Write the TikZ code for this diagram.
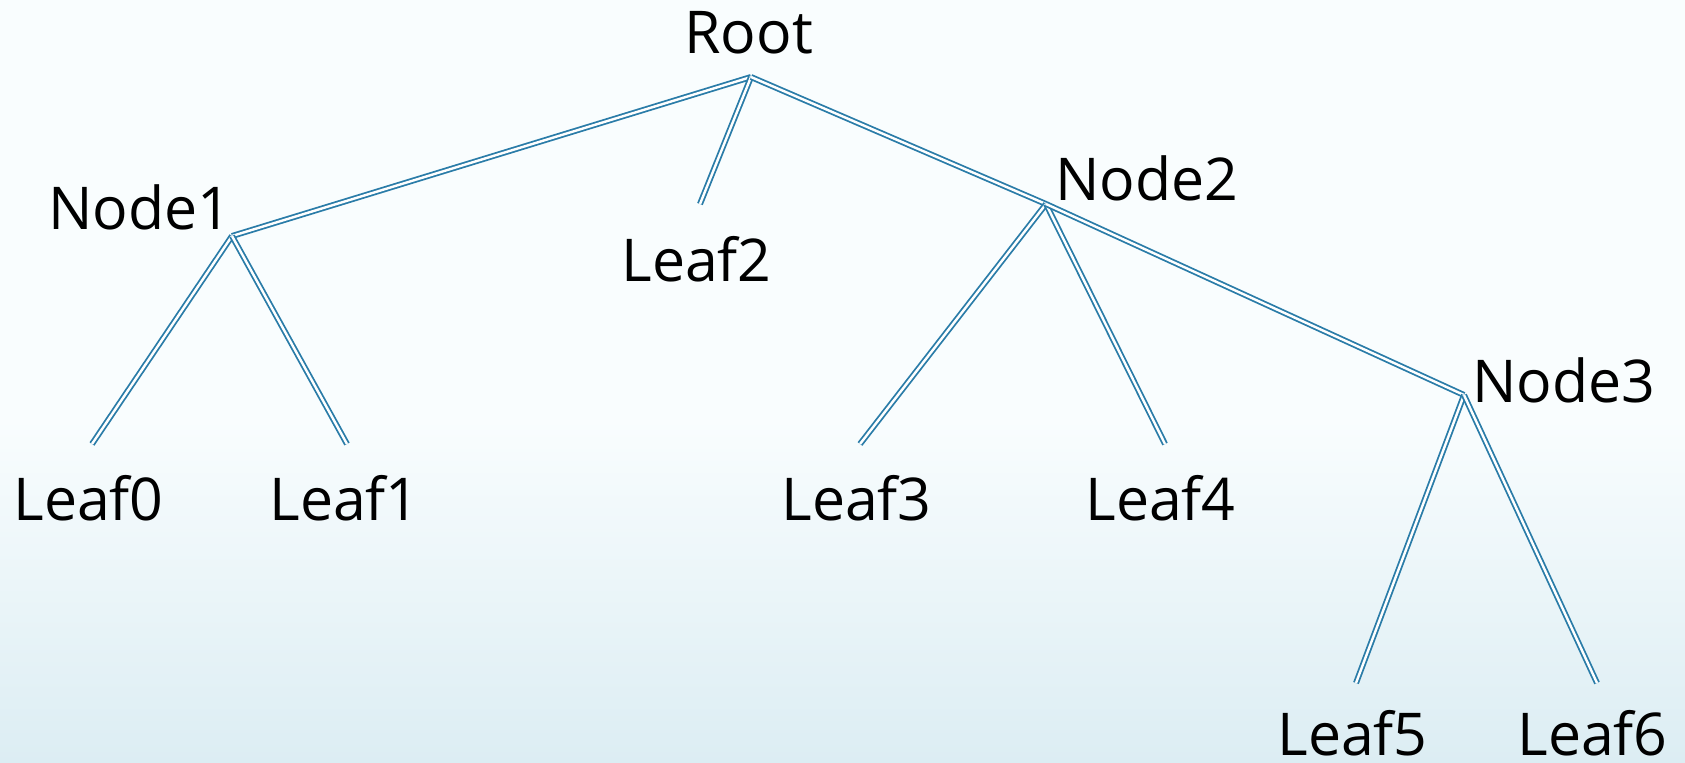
\documentclass[tikz,border=0pt]{standalone}
\usepackage{fontspec}
\setmainfont{Open Sans}
\begin{document}
\begin{tikzpicture}[x=0.5pt,y=-0.5pt,
  lbl/.style={anchor=base west,inner sep=0pt,font=\fontsize{29.5}{36}\selectfont},
  edge/.style={double distance=1.2pt,line width=0.9pt,draw=edgeblue,double=white}]
\definecolor{edgeblue}{HTML}{2A7CA8}
\definecolor{bgtop}{HTML}{F9FDFE}
\definecolor{bgbot}{HTML}{DCEDF3}
\fill[bgtop] (0,0) rectangle (1685,420);
\shade[top color=bgtop,bottom color=bgbot] (0,419) rectangle (1685,762);
\useasboundingbox (0,0) rectangle (1685,762);
% labels
\node[lbl] (troot) at (684,53) {Root};
\node[lbl] (tn1) at (48,229) {Node1};
\node[lbl] (tn2) at (1055,200) {Node2};
\node[lbl] (tn3) at (1472,402) {Node3};
\node[lbl] (tl2) at (621,281) {Leaf2};
\node[lbl] (tl0) at (13,520) {Leaf0};
\node[lbl] (tl1) at (269,520) {Leaf1};
\node[lbl] (tl3) at (781,520) {Leaf3};
\node[lbl] (tl4) at (1085,520) {Leaf4};
\node[lbl] (tl5) at (1277,755) {Leaf5};
\node[lbl] (tl6) at (1517,755) {Leaf6};
% junctions
\coordinate (root) at (751,77);
\coordinate (n1) at (232,236);
\coordinate (n2) at (1046,204);
\coordinate (n3) at (1464,395);
\coordinate (l2) at (700,204);
\coordinate (l0) at (92,444);
\coordinate (l1) at (347,444);
\coordinate (l3) at (860,444);
\coordinate (l4) at (1165,444);
\coordinate (l5) at (1356,683);
\coordinate (l6) at (1597,683);
\draw[edge] (root) -- (n1);
\draw[edge] (root) -- (l2);
\draw[edge] (root) -- (n2);
\draw[edge] (n1) -- (l0);
\draw[edge] (n1) -- (l1);
\draw[edge] (n2) -- (l3);
\draw[edge] (n2) -- (l4);
\draw[edge] (n2) -- (n3);
\draw[edge] (n3) -- (l5);
\draw[edge] (n3) -- (l6);
\end{tikzpicture}
\end{document}
